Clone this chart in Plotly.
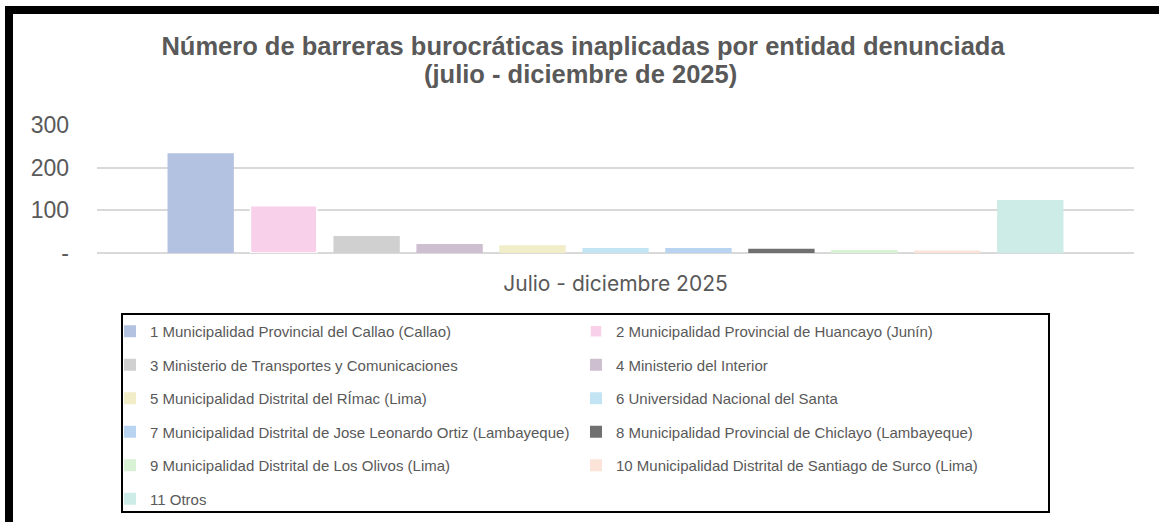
import plotly.graph_objects as go

# ---------------- data ----------------
category = ["Julio - diciembre 2025"]
entities = [
    "1 Municipalidad Provincial del Callao (Callao)",
    "2 Municipalidad Provincial de Huancayo (Junín)",
    "3 Ministerio de Transportes y Comunicaciones",
    "4 Ministerio del Interior",
    "5 Municipalidad Distrital del RÍmac (Lima)",
    "6 Universidad Nacional del Santa",
    "7 Municipalidad Distrital de Jose Leonardo Ortiz (Lambayeque)",
    "8 Municipalidad Provincial de Chiclayo (Lambayeque)",
    "9 Municipalidad Distrital de Los Olivos (Lima)",
    "10 Municipalidad Distrital de Santiago de Surco (Lima)",
    "11 Otros",
]
values = [234, 111, 40, 21, 18, 12, 12, 10, 7, 6, 124]
colors = ["#b4c2e2", "#f8d0ea", "#d0d0d0", "#cdbfcf", "#f1edc9", "#c3e5f3",
          "#b8d4f0", "#707070", "#d9f1d4", "#fbe3d7", "#ceece7"]
y_tickvals = [0, 100, 200, 300]
y_ticktext = ["-", "100", "200", "300"]
title_line1 = "Número de barreras burocráticas inaplicadas por entidad denunciada"
title_line2 = "(julio - diciembre de 2025)"

# ---------------- layout geometry (pixels) ----------------
W, H = 1159, 522
PL, PR, PT, PB = 97, 1134, 125, 253  # plot area


def px(x):
    return (x - PL) / (PR - PL)


def py(y):
    return (PB - y) / (PB - PT)


TEXT = "#595959"
FONT = "Liberation Sans, Arial, sans-serif"

fig = go.Figure()
for i, (name, v, c) in enumerate(zip(entities, values, colors)):
    fig.add_trace(go.Bar(
        x=category, y=[v], name=name,
        marker=dict(color=c, line=dict(color="white", width=1.5 if i == 1 else 0)),
        legend="legend" if i % 2 == 0 else "legend2",
        legendgroup=f"g{i}",
        hoverinfo="name+y",
    ))

legend_common = dict(
    orientation="v", traceorder="grouped", tracegroupgap=11,
    font=dict(family=FONT, size=15, color=TEXT),
    bgcolor="rgba(0,0,0,0)", borderwidth=0,
    xref="paper", yref="paper", yanchor="top", xanchor="left",
    itemclick=False, itemdoubleclick=False,
)

fig.update_layout(
    width=W, height=H,
    margin=dict(l=PL, r=W - PR, t=PT, b=H - PB, autoexpand=False),
    paper_bgcolor="white", plot_bgcolor="white",
    barmode="group", bargap=0.12, bargroupgap=0.2,
    title=dict(
        text=title_line1,
        font=dict(family=FONT, size=25.5, color=TEXT, weight="bold"),
        x=px(583), xanchor="center", xref="paper",
        y=1 - 46 / H, yanchor="middle", yref="container",
    ),
    annotations=[dict(
        text=title_line2, showarrow=False,
        font=dict(family=FONT, size=25.5, color=TEXT, weight="bold"),
        x=px(580), xanchor="center", xref="paper",
        y=py(74), yanchor="middle", yref="paper",
    )],
    xaxis=dict(
        range=[-0.5, 0.5], showgrid=False, showline=False, ticks="",
        tickfont=dict(family="Inter, Noto Sans, sans-serif", size=21, color=TEXT),
        ticklabelstandoff=16,
    ),
    yaxis=dict(
        range=[0, 300], tickvals=y_tickvals, ticktext=y_ticktext,
        showgrid=True, gridcolor="#d9d9d9", gridwidth=1.5,
        zeroline=True, zerolinecolor="#d9d9d9", zerolinewidth=2,
        showline=False, ticks="",
        tickfont=dict(family=FONT, size=23, color=TEXT),
        ticklabelstandoff=27,
    ),
    showlegend=True,
    legend=dict(x=px(110), y=py(315), **legend_common),
    legend2=dict(x=px(576), y=py(315), **legend_common),
    shapes=[
        # legend frame
        dict(type="rect", xref="paper", yref="paper",
             x0=px(122), x1=px(1049), y0=py(512), y1=py(314),
             line=dict(color="black", width=2), fillcolor="rgba(0,0,0,0)"),
        # outer chart frame (left and top edges)
        dict(type="rect", xref="paper", yref="paper",
             x0=px(5), x1=px(13), y0=py(530), y1=py(6),
             line=dict(width=0), fillcolor="black"),
        dict(type="rect", xref="paper", yref="paper",
             x0=px(5), x1=px(1170), y0=py(14), y1=py(6),
             line=dict(width=0), fillcolor="black"),
    ],
)

fig.write_html("out.html", config={"displayModeBar": False},
               post_script="document.body.style.margin='0';")
